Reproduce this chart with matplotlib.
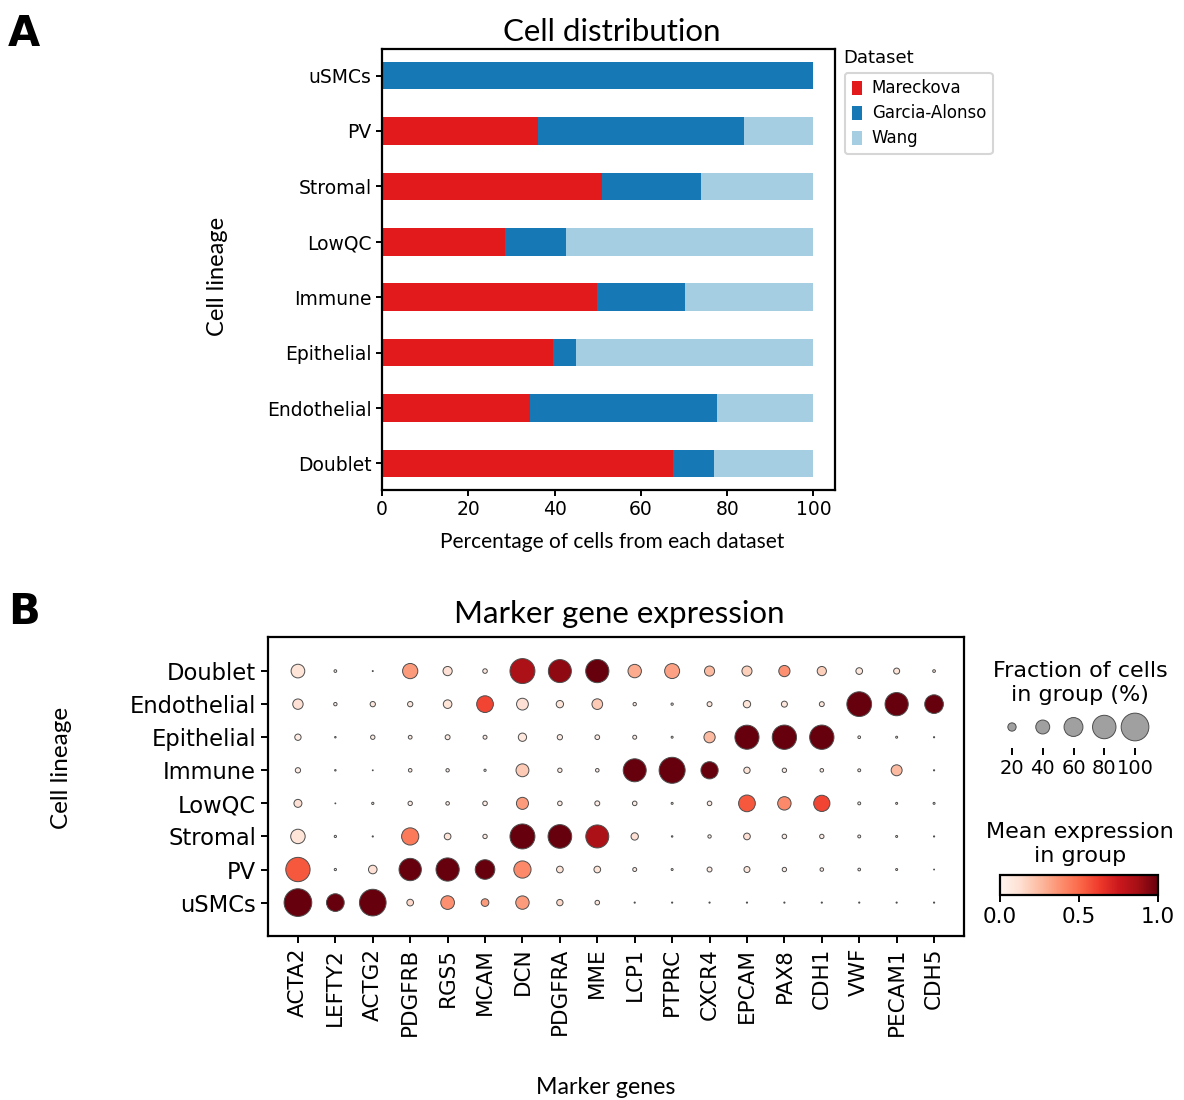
import numpy as np
import matplotlib
matplotlib.use("Agg")
import matplotlib.pyplot as plt
from matplotlib.cm import ScalarMappable
from matplotlib.colors import Normalize

# ---- data ----
lineages = ["Doublet", "Endothelial", "Epithelial", "Immune", "LowQC", "Stromal", "PV", "uSMCs"]
datasets = ["Mareckova", "Garcia-Alonso", "Wang"]
mareckova = [67.4, 34.2, 39.7, 49.8, 28.6, 51.0, 36.2, 0.0]
garcia_alonso = [9.5, 43.5, 5.2, 20.4, 14.1, 22.9, 47.6, 100.0]
wang = [23.1, 22.3, 55.1, 29.8, 57.3, 26.1, 16.2, 0.0]
dataset_colors = ["#e31a1c", "#1679b5", "#a6cee3"]

genes = ["ACTA2", "LEFTY2", "ACTG2", "PDGFRB", "RGS5", "MCAM", "DCN", "PDGFRA", "MME",
         "LCP1", "PTPRC", "CXCR4", "EPCAM", "PAX8", "CDH1", "VWF", "PECAM1", "CDH5"]

# fraction of cells expressing (%), rows follow `lineages`
frac_doublet = [39, 4.5, 1.2, 45, 23, 9, 87, 78, 79, 38, 44, 26, 26, 30, 23, 15, 13, 4.5]
frac_endothelial = [27, 6, 11, 11, 21, 51, 32, 17, 28, 6, 3.6, 10, 17, 13, 10, 86, 79, 59]
frac_epithelial = [14, 2, 8.5, 7, 10, 7.5, 20, 11, 9.4, 7.5, 3, 30, 83, 84, 84, 4.5, 3, 1.5]
frac_immune = [11, 2, 1, 6.5, 6, 3.5, 36, 8.5, 6.5, 78, 92, 53, 14, 8.5, 6.5, 5, 29, 1.5]
frac_lowqc = [19, 1, 3.5, 8.5, 6.5, 9, 33, 9, 10, 9, 3, 9, 51, 38, 49, 5, 3, 3]
frac_stromal = [42, 3.5, 1.5, 53, 15, 8.5, 87, 81, 78, 17, 2, 6, 15, 9, 8.5, 5, 3, 1.5]
frac_pv = [84, 3.5, 21, 75, 79, 63, 53, 15, 15, 7.5, 3, 10, 13, 8.5, 6.5, 4.5, 3, 1]
frac_usmcs = [100, 55, 95, 15, 39, 18, 38, 14, 9, 1.5, 1.5, 1.5, 1.5, 1.5, 1.5, 1.5, 1.5, 1.5]

# mean expression (scaled 0-1 per gene)
expr_doublet = [0.1, 0.05, 0.05, 0.35, 0.12, 0.08, 0.85, 0.92, 1.0, 0.3, 0.33, 0.25, 0.18, 0.38, 0.18, 0.08, 0.1, 0.1]
expr_endothelial = [0.12, 0.05, 0.08, 0.08, 0.1, 0.6, 0.12, 0.1, 0.2, 0.05, 0.05, 0.08, 0.1, 0.08, 0.08, 1.0, 1.0, 1.0]
expr_epithelial = [0.05, 0.02, 0.05, 0.05, 0.05, 0.05, 0.08, 0.05, 0.05, 0.05, 0.05, 0.25, 1.0, 1.0, 1.0, 0.05, 0.05, 0.05]
expr_immune = [0.05, 0.02, 0.02, 0.05, 0.05, 0.05, 0.2, 0.05, 0.05, 1.0, 1.0, 1.0, 0.1, 0.05, 0.05, 0.05, 0.25, 0.02]
expr_lowqc = [0.12, 0.02, 0.05, 0.05, 0.05, 0.05, 0.35, 0.05, 0.05, 0.05, 0.05, 0.05, 0.55, 0.4, 0.6, 0.05, 0.05, 0.05]
expr_stromal = [0.1, 0.05, 0.02, 0.45, 0.1, 0.05, 1.0, 1.0, 0.85, 0.12, 0.05, 0.05, 0.12, 0.05, 0.05, 0.05, 0.05, 0.02]
expr_pv = [0.55, 0.05, 0.12, 1.0, 1.0, 1.0, 0.4, 0.1, 0.1, 0.05, 0.05, 0.05, 0.08, 0.05, 0.05, 0.05, 0.05, 0.02]
expr_usmcs = [1.0, 1.0, 1.0, 0.15, 0.38, 0.35, 0.35, 0.15, 0.08, 0.05, 0.05, 0.05, 0.05, 0.05, 0.05, 0.05, 0.05, 0.05]

size_legend_values = [20, 40, 60, 80, 100]

frac = np.array([frac_doublet, frac_endothelial, frac_epithelial, frac_immune,
                 frac_lowqc, frac_stromal, frac_pv, frac_usmcs])
expr = np.array([expr_doublet, expr_endothelial, expr_epithelial, expr_immune,
                 expr_lowqc, expr_stromal, expr_pv, expr_usmcs])

W, H = 1184, 1100
TFONT = "Lato"
fig = plt.figure(figsize=(W / 100, H / 100), dpi=100)


def box(x0, y0, x1, y1):
    # pixel box -> figure fraction
    return [x0 / W, 1 - y1 / H, (x1 - x0) / W, (y1 - y0) / H]


# ---- panel A: stacked bars ----
axA = fig.add_axes(box(382, 49, 835, 490))
y = np.arange(len(lineages))
left = np.zeros(len(lineages))
for name, vals, col in zip(datasets, [mareckova, garcia_alonso, wang], dataset_colors):
    axA.barh(y, vals, left=left, height=0.5, color=col, label=name)
    left = left + np.array(vals)
axA.set_xlim(0, 105)
axA.set_ylim(-0.48, 7.48)
axA.set_yticks(y)
axA.set_yticklabels(lineages, fontsize=13.5)
axA.set_xticks([0, 20, 40, 60, 80, 100])
axA.tick_params(axis="x", labelsize=13.5)
for s in axA.spines.values():
    s.set_linewidth(1.6)
axA.tick_params(width=1.4, length=4)
leg = axA.legend(loc="upper left", bbox_to_anchor=(1.022, 0.946), borderaxespad=0,
                 fontsize=12, handlelength=0.6, handleheight=0.9, handletextpad=0.6,
                 labelspacing=0.42, borderpad=0.4, frameon=True)
leg.get_frame().set_linewidth(1.5)
fig.text(843 / W, 1 - 58 / H, "Dataset", fontsize=13, ha="left", va="center")

fig.text(612 / W, 1 - 32 / H, "Cell distribution", fontsize=22.5, family=TFONT, ha="center", va="center")
fig.text(612 / W, 1 - 542 / H, "Percentage of cells from each dataset", fontsize=15,
         family=TFONT, ha="center", va="center")
fig.text(218 / W, 1 - 276 / H, "Cell lineage", fontsize=17, family=TFONT,
         rotation=90, ha="center", va="center")
fig.text(8 / W, 1 - 34 / H, "A", fontsize=30, fontweight="bold", ha="left", va="center")

# ---- panel B: dot plot ----
axB = fig.add_axes(box(268, 637, 964, 936))
smax = (27.7 * 0.72) ** 2
gx, gy = np.meshgrid(np.arange(len(genes)), np.arange(len(lineages)))
sizes = (frac / 100.0) ** 1.5 * smax
axB.scatter(gx.ravel(), gy.ravel(), s=sizes.ravel(), c=expr.ravel(), cmap="Reds",
            vmin=0, vmax=1, edgecolors="0.3", linewidths=0.7, zorder=3)
axB.set_xlim(-0.8, len(genes) - 1 + 0.8)
axB.set_ylim(len(lineages) - 1 + 1.01, -1.03)
axB.set_xticks(np.arange(len(genes)))
axB.set_xticklabels(genes, rotation=90, fontsize=15.5)
axB.set_yticks(np.arange(len(lineages)))
axB.set_yticklabels(lineages, fontsize=16.3)
for s in axB.spines.values():
    s.set_linewidth(1.6)
axB.tick_params(width=1.4, length=5)

fig.text(619 / W, 1 - 614 / H, "Marker gene expression", fontsize=22.5, family=TFONT,
         ha="center", va="center")
fig.text(606 / W, 1 - 1087 / H, "Marker genes", fontsize=16.7, family=TFONT, ha="center", va="center")
fig.text(62 / W, 1 - 768 / H, "Cell lineage", fontsize=17.5, family=TFONT,
         rotation=90, ha="center", va="center")
fig.text(8 / W, 1 - 612 / H, "B", fontsize=30, fontweight="bold", ha="left", va="center")

# size legend
axS = fig.add_axes(box(996.6, 710, 1150.4, 744))
xs = np.arange(len(size_legend_values))
axS.scatter(xs, np.full(len(xs), 0.5), s=(np.array(size_legend_values) / 100.0) ** 1.5 * smax,
            color="#a0a0a0", edgecolors="0.3", linewidths=0.7)
axS.set_xlim(-0.5, len(xs) - 0.5)
axS.set_ylim(0, 1)
axS.spines["bottom"].set_position(("outward", 3))
for s in axS.spines.values():
    s.set_visible(False)
axS.set_yticks([])
axS.set_xticks(xs)
axS.set_xticklabels([str(v) for v in size_legend_values])
axS.tick_params(axis="x", length=5, width=1.4, pad=3, labelsize=14)
axS.patch.set_alpha(0)
fig.text(1080 / W, 1 - 683 / H, "Fraction of cells\nin group (%)", fontsize=16,
         ha="center", va="center", multialignment="center")

# colorbar
axC = fig.add_axes(box(1000, 875, 1158, 895))
cb = fig.colorbar(ScalarMappable(norm=Normalize(0, 1), cmap="Reds"), cax=axC, orientation="horizontal")
cb.set_ticks([0, 0.5, 1.0])
cb.set_ticklabels(["0.0", "0.5", "1.0"])
cb.ax.tick_params(labelsize=15.5, width=1.4, length=5)
cb.outline.set_linewidth(1.6)
fig.text(1080 / W, 1 - 844 / H, "Mean expression\nin group", fontsize=16,
         ha="center", va="center", multialignment="center")

fig.savefig("out.png", dpi=100)
